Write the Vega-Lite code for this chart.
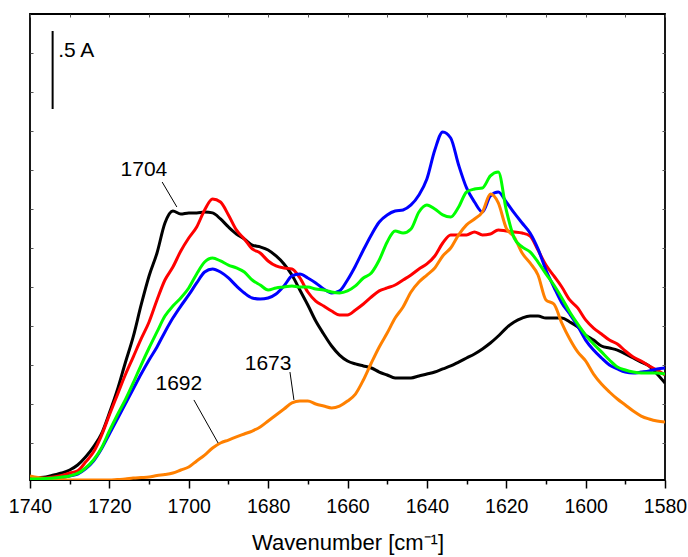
{
"$schema": "https://vega.github.io/schema/vega-lite/v6.json",
"width": 635, "height": 466,
"autosize": {"type": "none"},
"padding": {"left": 30, "top": 14, "right": 23, "bottom": 77},
"background": "white",
"config": {"view": {"stroke": "#000", "strokeWidth": 1.8}, "font": "Liberation Sans"},
"datasets": {
"spectra": [
{"s":"s1","wn":1740,"A":0.013},{"s":"s1","wn":1738,"A":0.016},{"s":"s1","wn":1736,"A":0.019},{"s":"s1","wn":1734,"A":0.032},{"s":"s1","wn":1732,"A":0.045},{"s":"s1","wn":1730,"A":0.064},{"s":"s1","wn":1728,"A":0.096},{"s":"s1","wn":1726,"A":0.147},{"s":"s1","wn":1724,"A":0.212},{"s":"s1","wn":1722,"A":0.295},{"s":"s1","wn":1720,"A":0.429},{"s":"s1","wn":1718,"A":0.577},{"s":"s1","wn":1716,"A":0.750},{"s":"s1","wn":1714,"A":0.917},{"s":"s1","wn":1712,"A":1.122},{"s":"s1","wn":1710,"A":1.308},{"s":"s1","wn":1708,"A":1.455},{"s":"s1","wn":1706,"A":1.647},{"s":"s1","wn":1704,"A":1.724},{"s":"s1","wn":1702,"A":1.705},{"s":"s1","wn":1700,"A":1.712},{"s":"s1","wn":1698,"A":1.712},{"s":"s1","wn":1696,"A":1.718},{"s":"s1","wn":1694,"A":1.712},{"s":"s1","wn":1692,"A":1.673},{"s":"s1","wn":1690,"A":1.622},{"s":"s1","wn":1688,"A":1.577},{"s":"s1","wn":1686,"A":1.545},{"s":"s1","wn":1684,"A":1.506},{"s":"s1","wn":1682,"A":1.494},{"s":"s1","wn":1680,"A":1.474},{"s":"s1","wn":1678,"A":1.436},{"s":"s1","wn":1676,"A":1.385},{"s":"s1","wn":1674,"A":1.314},{"s":"s1","wn":1672,"A":1.218},{"s":"s1","wn":1670,"A":1.122},{"s":"s1","wn":1668,"A":1.019},{"s":"s1","wn":1666,"A":0.936},{"s":"s1","wn":1664,"A":0.859},{"s":"s1","wn":1662,"A":0.801},{"s":"s1","wn":1660,"A":0.763},{"s":"s1","wn":1658,"A":0.744},{"s":"s1","wn":1656,"A":0.731},{"s":"s1","wn":1654,"A":0.718},{"s":"s1","wn":1652,"A":0.692},{"s":"s1","wn":1650,"A":0.673},{"s":"s1","wn":1648,"A":0.654},{"s":"s1","wn":1646,"A":0.654},{"s":"s1","wn":1644,"A":0.654},{"s":"s1","wn":1642,"A":0.667},{"s":"s1","wn":1640,"A":0.679},{"s":"s1","wn":1638,"A":0.692},{"s":"s1","wn":1636,"A":0.712},{"s":"s1","wn":1634,"A":0.731},{"s":"s1","wn":1632,"A":0.756},{"s":"s1","wn":1630,"A":0.782},{"s":"s1","wn":1628,"A":0.808},{"s":"s1","wn":1626,"A":0.840},{"s":"s1","wn":1624,"A":0.878},{"s":"s1","wn":1622,"A":0.923},{"s":"s1","wn":1620,"A":0.974},{"s":"s1","wn":1618,"A":1.013},{"s":"s1","wn":1616,"A":1.038},{"s":"s1","wn":1614,"A":1.051},{"s":"s1","wn":1612,"A":1.051},{"s":"s1","wn":1610,"A":1.038},{"s":"s1","wn":1608,"A":1.038},{"s":"s1","wn":1606,"A":1.038},{"s":"s1","wn":1604,"A":1.013},{"s":"s1","wn":1602,"A":0.981},{"s":"s1","wn":1600,"A":0.929},{"s":"s1","wn":1598,"A":0.897},{"s":"s1","wn":1596,"A":0.859},{"s":"s1","wn":1594,"A":0.846},{"s":"s1","wn":1592,"A":0.833},{"s":"s1","wn":1590,"A":0.808},{"s":"s1","wn":1588,"A":0.782},{"s":"s1","wn":1586,"A":0.756},{"s":"s1","wn":1584,"A":0.731},{"s":"s1","wn":1582,"A":0.679},{"s":"s1","wn":1580,"A":0.622},
{"s":"s2","wn":1740,"A":0.006},{"s":"s2","wn":1738,"A":0.010},{"s":"s2","wn":1736,"A":0.013},{"s":"s2","wn":1734,"A":0.019},{"s":"s2","wn":1732,"A":0.029},{"s":"s2","wn":1730,"A":0.045},{"s":"s2","wn":1728,"A":0.058},{"s":"s2","wn":1726,"A":0.115},{"s":"s2","wn":1724,"A":0.179},{"s":"s2","wn":1722,"A":0.285},{"s":"s2","wn":1720,"A":0.417},{"s":"s2","wn":1718,"A":0.545},{"s":"s2","wn":1716,"A":0.673},{"s":"s2","wn":1714,"A":0.788},{"s":"s2","wn":1712,"A":0.904},{"s":"s2","wn":1710,"A":1.013},{"s":"s2","wn":1708,"A":1.154},{"s":"s2","wn":1706,"A":1.282},{"s":"s2","wn":1704,"A":1.365},{"s":"s2","wn":1702,"A":1.468},{"s":"s2","wn":1700,"A":1.551},{"s":"s2","wn":1698,"A":1.622},{"s":"s2","wn":1696,"A":1.731},{"s":"s2","wn":1694,"A":1.801},{"s":"s2","wn":1692,"A":1.782},{"s":"s2","wn":1690,"A":1.699},{"s":"s2","wn":1688,"A":1.603},{"s":"s2","wn":1686,"A":1.545},{"s":"s2","wn":1684,"A":1.481},{"s":"s2","wn":1682,"A":1.455},{"s":"s2","wn":1680,"A":1.404},{"s":"s2","wn":1678,"A":1.372},{"s":"s2","wn":1676,"A":1.359},{"s":"s2","wn":1674,"A":1.353},{"s":"s2","wn":1672,"A":1.295},{"s":"s2","wn":1670,"A":1.205},{"s":"s2","wn":1668,"A":1.147},{"s":"s2","wn":1666,"A":1.115},{"s":"s2","wn":1664,"A":1.083},{"s":"s2","wn":1662,"A":1.058},{"s":"s2","wn":1660,"A":1.058},{"s":"s2","wn":1658,"A":1.090},{"s":"s2","wn":1656,"A":1.128},{"s":"s2","wn":1654,"A":1.173},{"s":"s2","wn":1652,"A":1.212},{"s":"s2","wn":1650,"A":1.231},{"s":"s2","wn":1648,"A":1.250},{"s":"s2","wn":1646,"A":1.282},{"s":"s2","wn":1644,"A":1.314},{"s":"s2","wn":1642,"A":1.353},{"s":"s2","wn":1640,"A":1.385},{"s":"s2","wn":1638,"A":1.436},{"s":"s2","wn":1636,"A":1.519},{"s":"s2","wn":1634,"A":1.571},{"s":"s2","wn":1632,"A":1.571},{"s":"s2","wn":1630,"A":1.571},{"s":"s2","wn":1628,"A":1.590},{"s":"s2","wn":1626,"A":1.571},{"s":"s2","wn":1624,"A":1.577},{"s":"s2","wn":1622,"A":1.603},{"s":"s2","wn":1620,"A":1.596},{"s":"s2","wn":1618,"A":1.590},{"s":"s2","wn":1616,"A":1.583},{"s":"s2","wn":1614,"A":1.564},{"s":"s2","wn":1612,"A":1.474},{"s":"s2","wn":1610,"A":1.378},{"s":"s2","wn":1608,"A":1.308},{"s":"s2","wn":1606,"A":1.237},{"s":"s2","wn":1604,"A":1.154},{"s":"s2","wn":1602,"A":1.103},{"s":"s2","wn":1600,"A":1.026},{"s":"s2","wn":1598,"A":0.974},{"s":"s2","wn":1596,"A":0.936},{"s":"s2","wn":1594,"A":0.897},{"s":"s2","wn":1592,"A":0.872},{"s":"s2","wn":1590,"A":0.827},{"s":"s2","wn":1588,"A":0.788},{"s":"s2","wn":1586,"A":0.763},{"s":"s2","wn":1584,"A":0.731},{"s":"s2","wn":1582,"A":0.705},{"s":"s2","wn":1580,"A":0.673},
{"s":"s3","wn":1740,"A":0.003},{"s":"s3","wn":1738,"A":0.003},{"s":"s3","wn":1736,"A":0.006},{"s":"s3","wn":1734,"A":0.010},{"s":"s3","wn":1732,"A":0.016},{"s":"s3","wn":1730,"A":0.026},{"s":"s3","wn":1728,"A":0.038},{"s":"s3","wn":1726,"A":0.071},{"s":"s3","wn":1724,"A":0.122},{"s":"s3","wn":1722,"A":0.199},{"s":"s3","wn":1720,"A":0.295},{"s":"s3","wn":1718,"A":0.391},{"s":"s3","wn":1716,"A":0.487},{"s":"s3","wn":1714,"A":0.583},{"s":"s3","wn":1712,"A":0.679},{"s":"s3","wn":1710,"A":0.769},{"s":"s3","wn":1708,"A":0.853},{"s":"s3","wn":1706,"A":0.949},{"s":"s3","wn":1704,"A":1.038},{"s":"s3","wn":1702,"A":1.115},{"s":"s3","wn":1700,"A":1.186},{"s":"s3","wn":1698,"A":1.263},{"s":"s3","wn":1696,"A":1.333},{"s":"s3","wn":1694,"A":1.353},{"s":"s3","wn":1692,"A":1.333},{"s":"s3","wn":1690,"A":1.295},{"s":"s3","wn":1688,"A":1.244},{"s":"s3","wn":1686,"A":1.199},{"s":"s3","wn":1684,"A":1.167},{"s":"s3","wn":1682,"A":1.160},{"s":"s3","wn":1680,"A":1.167},{"s":"s3","wn":1678,"A":1.192},{"s":"s3","wn":1676,"A":1.244},{"s":"s3","wn":1674,"A":1.308},{"s":"s3","wn":1672,"A":1.321},{"s":"s3","wn":1670,"A":1.295},{"s":"s3","wn":1668,"A":1.263},{"s":"s3","wn":1666,"A":1.224},{"s":"s3","wn":1664,"A":1.199},{"s":"s3","wn":1662,"A":1.212},{"s":"s3","wn":1660,"A":1.282},{"s":"s3","wn":1658,"A":1.372},{"s":"s3","wn":1656,"A":1.474},{"s":"s3","wn":1654,"A":1.571},{"s":"s3","wn":1652,"A":1.654},{"s":"s3","wn":1650,"A":1.699},{"s":"s3","wn":1648,"A":1.724},{"s":"s3","wn":1646,"A":1.731},{"s":"s3","wn":1644,"A":1.763},{"s":"s3","wn":1642,"A":1.827},{"s":"s3","wn":1640,"A":1.929},{"s":"s3","wn":1638,"A":2.115},{"s":"s3","wn":1636,"A":2.231},{"s":"s3","wn":1634,"A":2.192},{"s":"s3","wn":1632,"A":2.019},{"s":"s3","wn":1630,"A":1.872},{"s":"s3","wn":1628,"A":1.782},{"s":"s3","wn":1626,"A":1.718},{"s":"s3","wn":1624,"A":1.821},{"s":"s3","wn":1622,"A":1.846},{"s":"s3","wn":1620,"A":1.782},{"s":"s3","wn":1618,"A":1.712},{"s":"s3","wn":1616,"A":1.647},{"s":"s3","wn":1614,"A":1.583},{"s":"s3","wn":1612,"A":1.481},{"s":"s3","wn":1610,"A":1.346},{"s":"s3","wn":1608,"A":1.237},{"s":"s3","wn":1606,"A":1.135},{"s":"s3","wn":1604,"A":1.064},{"s":"s3","wn":1602,"A":0.987},{"s":"s3","wn":1600,"A":0.897},{"s":"s3","wn":1598,"A":0.833},{"s":"s3","wn":1596,"A":0.782},{"s":"s3","wn":1594,"A":0.737},{"s":"s3","wn":1592,"A":0.712},{"s":"s3","wn":1590,"A":0.692},{"s":"s3","wn":1588,"A":0.686},{"s":"s3","wn":1586,"A":0.692},{"s":"s3","wn":1584,"A":0.699},{"s":"s3","wn":1582,"A":0.712},{"s":"s3","wn":1580,"A":0.718},
{"s":"s4","wn":1740,"A":0.026},{"s":"s4","wn":1738,"A":0.016},{"s":"s4","wn":1736,"A":0.010},{"s":"s4","wn":1734,"A":0.006},{"s":"s4","wn":1732,"A":0.003},{"s":"s4","wn":1730,"A":0.000},{"s":"s4","wn":1728,"A":0.000},{"s":"s4","wn":1726,"A":0.000},{"s":"s4","wn":1724,"A":0.000},{"s":"s4","wn":1722,"A":0.000},{"s":"s4","wn":1720,"A":0.000},{"s":"s4","wn":1718,"A":0.003},{"s":"s4","wn":1716,"A":0.006},{"s":"s4","wn":1714,"A":0.013},{"s":"s4","wn":1712,"A":0.016},{"s":"s4","wn":1710,"A":0.019},{"s":"s4","wn":1708,"A":0.029},{"s":"s4","wn":1706,"A":0.035},{"s":"s4","wn":1704,"A":0.045},{"s":"s4","wn":1702,"A":0.064},{"s":"s4","wn":1700,"A":0.083},{"s":"s4","wn":1698,"A":0.122},{"s":"s4","wn":1696,"A":0.160},{"s":"s4","wn":1694,"A":0.205},{"s":"s4","wn":1692,"A":0.237},{"s":"s4","wn":1690,"A":0.256},{"s":"s4","wn":1688,"A":0.276},{"s":"s4","wn":1686,"A":0.295},{"s":"s4","wn":1684,"A":0.314},{"s":"s4","wn":1682,"A":0.340},{"s":"s4","wn":1680,"A":0.378},{"s":"s4","wn":1678,"A":0.417},{"s":"s4","wn":1676,"A":0.455},{"s":"s4","wn":1674,"A":0.494},{"s":"s4","wn":1672,"A":0.506},{"s":"s4","wn":1670,"A":0.506},{"s":"s4","wn":1668,"A":0.487},{"s":"s4","wn":1666,"A":0.474},{"s":"s4","wn":1664,"A":0.462},{"s":"s4","wn":1662,"A":0.474},{"s":"s4","wn":1660,"A":0.506},{"s":"s4","wn":1658,"A":0.551},{"s":"s4","wn":1656,"A":0.641},{"s":"s4","wn":1654,"A":0.750},{"s":"s4","wn":1652,"A":0.853},{"s":"s4","wn":1650,"A":0.942},{"s":"s4","wn":1648,"A":1.038},{"s":"s4","wn":1646,"A":1.109},{"s":"s4","wn":1644,"A":1.205},{"s":"s4","wn":1642,"A":1.269},{"s":"s4","wn":1640,"A":1.314},{"s":"s4","wn":1638,"A":1.359},{"s":"s4","wn":1636,"A":1.436},{"s":"s4","wn":1634,"A":1.487},{"s":"s4","wn":1632,"A":1.571},{"s":"s4","wn":1630,"A":1.635},{"s":"s4","wn":1628,"A":1.673},{"s":"s4","wn":1626,"A":1.718},{"s":"s4","wn":1624,"A":1.833},{"s":"s4","wn":1622,"A":1.776},{"s":"s4","wn":1620,"A":1.615},{"s":"s4","wn":1618,"A":1.558},{"s":"s4","wn":1616,"A":1.455},{"s":"s4","wn":1614,"A":1.391},{"s":"s4","wn":1612,"A":1.314},{"s":"s4","wn":1610,"A":1.154},{"s":"s4","wn":1608,"A":1.128},{"s":"s4","wn":1606,"A":1.006},{"s":"s4","wn":1604,"A":0.904},{"s":"s4","wn":1602,"A":0.821},{"s":"s4","wn":1600,"A":0.763},{"s":"s4","wn":1598,"A":0.679},{"s":"s4","wn":1596,"A":0.615},{"s":"s4","wn":1594,"A":0.564},{"s":"s4","wn":1592,"A":0.519},{"s":"s4","wn":1590,"A":0.481},{"s":"s4","wn":1588,"A":0.442},{"s":"s4","wn":1586,"A":0.410},{"s":"s4","wn":1584,"A":0.391},{"s":"s4","wn":1582,"A":0.378},{"s":"s4","wn":1580,"A":0.372},
{"s":"s5","wn":1740,"A":0.006},{"s":"s5","wn":1738,"A":0.006},{"s":"s5","wn":1736,"A":0.010},{"s":"s5","wn":1734,"A":0.013},{"s":"s5","wn":1732,"A":0.019},{"s":"s5","wn":1730,"A":0.026},{"s":"s5","wn":1728,"A":0.042},{"s":"s5","wn":1726,"A":0.077},{"s":"s5","wn":1724,"A":0.128},{"s":"s5","wn":1722,"A":0.205},{"s":"s5","wn":1720,"A":0.314},{"s":"s5","wn":1718,"A":0.417},{"s":"s5","wn":1716,"A":0.513},{"s":"s5","wn":1714,"A":0.622},{"s":"s5","wn":1712,"A":0.737},{"s":"s5","wn":1710,"A":0.846},{"s":"s5","wn":1708,"A":0.949},{"s":"s5","wn":1706,"A":1.051},{"s":"s5","wn":1704,"A":1.115},{"s":"s5","wn":1702,"A":1.167},{"s":"s5","wn":1700,"A":1.231},{"s":"s5","wn":1698,"A":1.321},{"s":"s5","wn":1696,"A":1.397},{"s":"s5","wn":1694,"A":1.423},{"s":"s5","wn":1692,"A":1.404},{"s":"s5","wn":1690,"A":1.378},{"s":"s5","wn":1688,"A":1.359},{"s":"s5","wn":1686,"A":1.333},{"s":"s5","wn":1684,"A":1.282},{"s":"s5","wn":1682,"A":1.250},{"s":"s5","wn":1680,"A":1.218},{"s":"s5","wn":1678,"A":1.231},{"s":"s5","wn":1676,"A":1.237},{"s":"s5","wn":1674,"A":1.244},{"s":"s5","wn":1672,"A":1.237},{"s":"s5","wn":1670,"A":1.237},{"s":"s5","wn":1668,"A":1.224},{"s":"s5","wn":1666,"A":1.218},{"s":"s5","wn":1664,"A":1.205},{"s":"s5","wn":1662,"A":1.199},{"s":"s5","wn":1660,"A":1.212},{"s":"s5","wn":1658,"A":1.244},{"s":"s5","wn":1656,"A":1.295},{"s":"s5","wn":1654,"A":1.327},{"s":"s5","wn":1652,"A":1.410},{"s":"s5","wn":1650,"A":1.526},{"s":"s5","wn":1648,"A":1.596},{"s":"s5","wn":1646,"A":1.583},{"s":"s5","wn":1644,"A":1.609},{"s":"s5","wn":1642,"A":1.718},{"s":"s5","wn":1640,"A":1.763},{"s":"s5","wn":1638,"A":1.737},{"s":"s5","wn":1636,"A":1.699},{"s":"s5","wn":1634,"A":1.686},{"s":"s5","wn":1632,"A":1.750},{"s":"s5","wn":1630,"A":1.846},{"s":"s5","wn":1628,"A":1.865},{"s":"s5","wn":1626,"A":1.872},{"s":"s5","wn":1624,"A":1.949},{"s":"s5","wn":1622,"A":1.974},{"s":"s5","wn":1620,"A":1.731},{"s":"s5","wn":1618,"A":1.551},{"s":"s5","wn":1616,"A":1.494},{"s":"s5","wn":1614,"A":1.462},{"s":"s5","wn":1612,"A":1.397},{"s":"s5","wn":1610,"A":1.321},{"s":"s5","wn":1608,"A":1.250},{"s":"s5","wn":1606,"A":1.167},{"s":"s5","wn":1604,"A":1.077},{"s":"s5","wn":1602,"A":1.000},{"s":"s5","wn":1600,"A":0.929},{"s":"s5","wn":1598,"A":0.872},{"s":"s5","wn":1596,"A":0.821},{"s":"s5","wn":1594,"A":0.769},{"s":"s5","wn":1592,"A":0.724},{"s":"s5","wn":1590,"A":0.705},{"s":"s5","wn":1588,"A":0.692},{"s":"s5","wn":1586,"A":0.686},{"s":"s5","wn":1584,"A":0.686},{"s":"s5","wn":1582,"A":0.686},{"s":"s5","wn":1580,"A":0.679}
],
"scalebar": [{"x": 1734.3, "y": 2.378, "y2": 2.878}],
"leaders": [
{"x": 1706.7, "y": 1.910, "x2": 1703.0, "y2": 1.750},
{"x": 1698.7, "y": 0.513, "x2": 1692.6, "y2": 0.237},
{"x": 1674.5, "y": 0.692, "x2": 1673.5, "y2": 0.513}
],
"peaklabels": [
{"x": 1711.3, "y": 1.990, "t": "1704"},
{"x": 1702.5, "y": 0.615, "t": "1692"},
{"x": 1680.0, "y": 0.744, "t": "1673"}
],
"barlabel": [{"x": 1732.9, "y": 2.747, "t": ".5 A"}]
},
"layer": [
{
"data": {"name": "spectra"},
"mark": {"type": "line", "strokeWidth": 3, "interpolate": "monotone", "clip": true},
"encoding": {
"x": {"field": "wn", "type": "quantitative",
"scale": {"domain": [1580, 1740], "reverse": true, "nice": false, "zero": false},
"axis": {"orient": "bottom", "values": [1740,1730,1720,1710,1700,1690,1680,1670,1660,1650,1640,1630,1620,1610,1600,1590,1580],
"format": "d", "labelExpr": "datum.value % 20 === 0 ? datum.label : ''",
"labelOverlap": false, "labelFlush": false,
"tickSize": {"condition": {"test": "datum.value % 20 === 0", "value": 8}, "value": 4},
"tickColor": "#000", "tickWidth": 1.5, "domain": false, "grid": false,
"labelFont": "Liberation Sans", "labelFontSize": 19.5, "labelColor": "#000", "labelPadding": 9,
"title": "Wavenumber [cm⁻¹]", "titleFont": "Liberation Sans", "titleFontSize": 22, "titleFontWeight": "normal", "titleColor": "#000", "titlePadding": 17}},
"y": {"field": "A", "type": "quantitative",
"scale": {"domain": [0, 2.987], "nice": false, "zero": false},
"axis": {"orient": "left", "values": [0.237,0.487,0.737,0.987,1.237,1.487,1.737,1.987,2.237,2.487,2.737],
"labels": false, "domain": false, "grid": false, "tickSize": -3, "tickColor": "#555", "tickWidth": 1, "title": null}},
"color": {"field": "s", "type": "nominal",
"scale": {"domain": ["s1","s2","s3","s4","s5"], "range": ["#000000","#ff0000","#0000ff","#ff8000","#00ff00"]},
"legend": null}
}
},
{
"data": {"name": "scalebar"},
"mark": {"type": "rule", "strokeWidth": 2, "color": "#000"},
"encoding": {
"x": {"field": "x", "type": "quantitative",
"axis": {"orient": "top", "values": [1740,1730,1720,1710,1700,1690,1680,1670,1660,1650,1640,1630,1620,1610,1600,1590,1580],
"labels": false, "domain": false, "grid": false, "tickSize": -3, "tickColor": "#555", "tickWidth": 1, "title": null}},
"y": {"field": "y", "type": "quantitative",
"axis": {"orient": "right", "values": [0.237,0.487,0.737,0.987,1.237,1.487,1.737,1.987,2.237,2.487,2.737],
"labels": false, "domain": false, "grid": false, "tickSize": -3, "tickColor": "#555", "tickWidth": 1, "title": null}},
"y2": {"field": "y2"}
}
},
{
"data": {"name": "leaders"},
"mark": {"type": "rule", "strokeWidth": 1, "color": "#000"},
"encoding": {
"x": {"field": "x", "type": "quantitative", "axis": null},
"y": {"field": "y", "type": "quantitative", "axis": null},
"x2": {"field": "x2"},
"y2": {"field": "y2"}
}
},
{
"data": {"name": "peaklabels"},
"mark": {"type": "text", "font": "Liberation Sans", "fontSize": 21, "color": "#000", "align": "center", "baseline": "middle"},
"encoding": {
"x": {"field": "x", "type": "quantitative", "axis": null},
"y": {"field": "y", "type": "quantitative", "axis": null},
"text": {"field": "t"}
}
},
{
"data": {"name": "barlabel"},
"mark": {"type": "text", "font": "Liberation Sans", "fontSize": 21, "color": "#000", "align": "left", "baseline": "middle"},
"encoding": {
"x": {"field": "x", "type": "quantitative", "axis": null},
"y": {"field": "y", "type": "quantitative", "axis": null},
"text": {"field": "t"}
}
}
],
"resolve": {"axis": {"x": "independent", "y": "independent"}}
}
